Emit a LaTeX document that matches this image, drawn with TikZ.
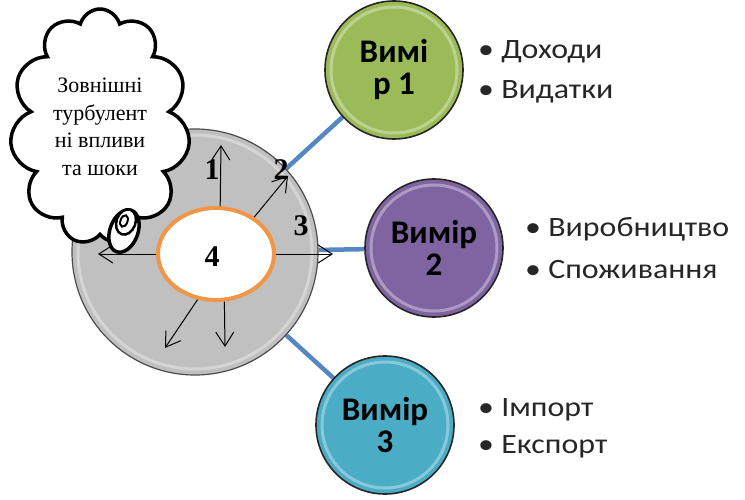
\documentclass[tikz,border=0pt]{standalone}
\usepackage{fontspec}
\setmainfont{Liberation Serif}
\newfontfamily\calfont{Carlito}
\newfontfamily\listfont[FakeStretch=1.14]{Carlito}
\usetikzlibrary{shapes.geometric,shapes.symbols,arrows.meta,backgrounds}

\definecolor{discgray}{RGB}{192,192,192}
\definecolor{coreorange}{RGB}{240,150,70}
\definecolor{linkblue}{RGB}{85,135,195}
\definecolor{dimgreen}{RGB}{155,187,89}
\definecolor{dimpurple}{RGB}{128,100,162}
\definecolor{dimblue}{RGB}{75,172,198}

\begin{document}
\begin{tikzpicture}[x=1pt,y=-1pt,
	every node/.style={inner sep=0pt},
	gloss/.style={path picture={\draw[white,opacity=0.35,line width=3pt]
		(path picture bounding box.center) circle (#1);}},
	bigdisc/.style={circle,fill=discgray,draw=black!70,line width=1.2pt,minimum size=246,gloss=117},
	core/.style={ellipse,fill=white,draw=coreorange,line width=4pt,minimum width=116,minimum height=92},
	dimcircle/.style={circle,draw=black!85,line width=1.6pt,minimum size=138,align=center,gloss=63,
		font=\calfont\bfseries\fontsize{33}{32}\selectfont},
	thought/.style={cloud,cloud puffs=11,cloud ignores aspect,draw,line width=3.5pt,fill=white,
		minimum width=180,minimum height=236,align=center,font=\fontsize{22}{27.5}\selectfont},
	bubble/.style={ellipse,draw,line width=3.5pt,fill=white,rotate=-20},
	ray/.style={-{Straight Barb[length=14pt,width=18pt]},line width=1pt},
	link/.style={line width=4.5pt,draw=linkblue},
	num/.style={font=\bfseries\fontsize{30}{30}\selectfont},
	item/.style={anchor=west,text=black!85,font=\listfont\fontsize{28}{28}\selectfont}]
	\useasboundingbox (0,0) rectangle (745,500);

	\node (disc) at (195,252) [bigdisc] {};
	\node (c1) at (394,70) [dimcircle,fill=dimgreen] {Вимі\\р 1};
	\node (c2) at (434,248) [dimcircle,fill=dimpurple] {Вимір\\2};
	\node (c3) at (385,425) [dimcircle,fill=dimblue] {Вимір\\3};

	\begin{scope}[on background layer]
		\draw [link] (disc) -- (c1);
		\draw [link] (disc) -- (c2);
		\draw [link] (disc) -- (c3);
	\end{scope}

	\node (core) at (216,254) [core] {};
	\node (n4) at (212,257) [num] {4};

	\coordinate (r1) at (221,145);
	\coordinate (r2) at (288,176);
	\coordinate (r3) at (333,254);
	\coordinate (rl) at (98,254);
	\coordinate (rdl) at (165,348);
	\coordinate (rd) at (225,347);
	\draw [ray] (core.85) -- (r1);
	\draw [ray] (core.44) -- (r2);
	\draw [ray] (core.east) -- (r3);
	\draw [ray] (core.west) -- (rl);
	\draw [ray] (core.248) -- (rdl);
	\draw [ray] (core.280) -- (rd);

	\node (n1) at (212,170) [num] {1};
	\node (n2) at (281,170) [num] {2};
	\node (n3) at (301,226) [num] {3};

	% external shocks
	\node (shock) at (100,127) [thought] {Зовнішні\\турбулент\\ні впливи\\та шоки};
	\node (b1) at (124,231) [bubble,minimum width=28,minimum height=44] {};
	\node (b2) at (126,222) [bubble,line width=2.5pt,minimum width=19,minimum height=26] {};
	\node (b3) at (124,221) [bubble,line width=2pt,minimum width=7,minimum height=12] {};

	\node (d1a) at (478,52) [item] {• Доходи};
	\node (d1b) at (478,92) [item] {• Видатки};
	\node (d2a) at (525,229) [item] {• Виробництво};
	\node (d2b) at (525,270) [item] {• Споживання};
	\node (d3a) at (478,410) [item] {• Імпорт};
	\node (d3b) at (478,447) [item] {• Експорт};
\end{tikzpicture}
\end{document}
